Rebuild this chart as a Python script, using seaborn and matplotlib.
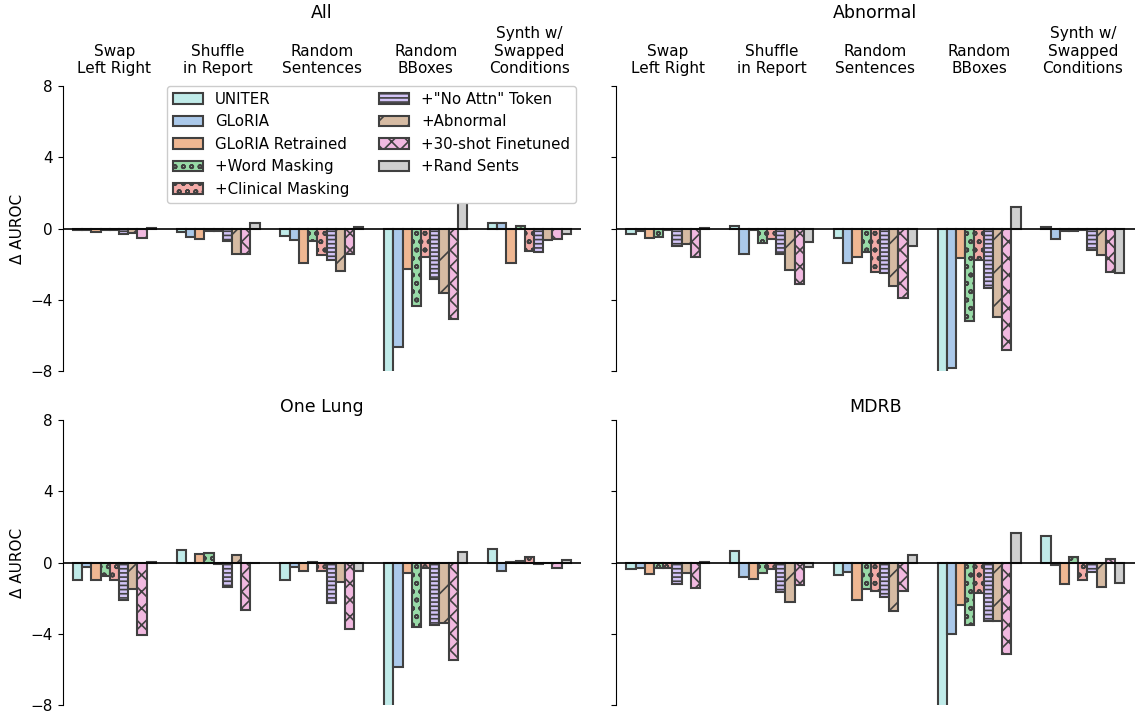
import numpy as np
import pandas as pd
import matplotlib
matplotlib.use("Agg")
import matplotlib.pyplot as plt
import seaborn as sns
from matplotlib.patches import Patch

# -----------------------------------------------------------------------------
# data (delta AUROC)

perturbations = ["Swap\nLeft Right", "Shuffle\nin Report", "Random\nSentences",
                 "Random\nBBoxes", "Synth w/\nSwapped\nConditions"]
models = ["UNITER", "GLoRIA", "GLoRIA Retrained", "+Word Masking",
          "+Clinical Masking", "+\"No Attn\" Token", "+Abnormal",
          "+30-shot Finetuned", "+Rand Sents"]
panels = ["All", "Abnormal", "One Lung", "MDRB"]
hatches = ["", "", "", "oo", "oo", "----", "/", "xx", ""]

# one row per model, one column per perturbation
all_vals = [[-0.05, -0.20, -0.40, -9.50, 0.30],
            [-0.05, -0.45, -0.65, -6.65, 0.30],
            [-0.20, -0.60, -1.95, -2.25, -1.90],
            [-0.10, -0.15, -0.70, -4.35, 0.15],
            [-0.05, -0.15, -1.50, -1.60, -1.25],
            [-0.30, -0.70, -1.75, -2.80, -1.30],
            [-0.25, -1.45, -2.35, -3.60, -0.65],
            [-0.55, -1.40, -1.45, -5.05, -0.60],
            [0.02, 0.30, 0.10, 2.00, -0.30]]
abnormal_vals = [[-0.30, 0.15, -0.50, -9.50, 0.10],
                 [-0.15, -1.45, -1.90, -7.80, -0.60],
                 [-0.50, -0.05, -1.60, -1.65, -0.15],
                 [-0.45, -0.80, -1.30, -5.20, -0.15],
                 [-0.05, -0.60, -2.45, -1.75, -0.05],
                 [-1.00, -1.40, -2.50, -3.35, -1.20],
                 [-0.85, -2.30, -3.20, -4.95, -1.50],
                 [-1.60, -3.10, -3.90, -6.80, -2.45],
                 [0.01, -0.75, -1.00, 1.20, -2.50]]
one_lung_vals = [[-1.00, 0.70, -1.00, -9.50, 0.75],
                 [-0.25, -0.05, -0.25, -5.85, -0.45],
                 [-1.00, 0.50, -0.45, -0.60, 0.02],
                 [-0.75, 0.55, 0.05, -3.60, 0.10],
                 [-1.00, -0.10, -0.45, -0.30, 0.30],
                 [-2.10, -1.35, -2.25, -3.50, -0.10],
                 [-1.50, 0.40, -1.10, -3.40, -0.02],
                 [-4.05, -2.65, -3.75, -5.45, -0.30],
                 [0.01, -0.05, -0.45, 0.60, 0.15]]
mdrb_vals = [[-0.35, 0.65, -0.70, -9.50, 1.50],
             [-0.30, -0.80, -0.55, -4.00, -0.15],
             [-0.65, -0.90, -2.10, -2.40, -1.20],
             [-0.30, -0.60, -1.50, -3.50, 0.30],
             [-0.30, -0.35, -1.60, -1.70, -0.95],
             [-1.20, -1.65, -1.95, -3.25, -0.55],
             [-0.60, -2.20, -2.70, -3.25, -1.35],
             [-1.40, -1.25, -1.60, -5.15, 0.20],
             [0.01, -0.25, 0.45, 1.65, -1.15]]
panel_vals = [all_vals, abnormal_vals, one_lung_vals, mdrb_vals]

# -----------------------------------------------------------------------------
# style

sns.set_style("ticks", {"text.color": "black", "axes.labelcolor": "black",
                        "xtick.color": "black", "ytick.color": "black",
                        "axes.edgecolor": "black"})
plt.rcParams["font.family"] = ["DejaVu Sans"]
plt.rcParams["hatch.color"] = ".25"
plt.rcParams["hatch.linewidth"] = 1.2
pal = sns.color_palette("pastel")
colors = [pal[9]] + list(pal[:8])

fig, axes = plt.subplots(2, 2, figsize=(11.37, 7.16), dpi=100, sharey=True)
fig.subplots_adjust(left=0.055, right=0.998, top=0.88, bottom=0.015,
                    wspace=0.067, hspace=0.17)

for k, ax in enumerate(axes.flat):
    vals = panel_vals[k]
    df = pd.DataFrame({
        "perturbation": [p for m in models for p in perturbations],
        "model": [m for m in models for p in perturbations],
        "delta": [v for row in vals for v in row],
    })
    sns.barplot(data=df, x="perturbation", y="delta", hue="model",
                order=perturbations, hue_order=models, palette=colors,
                errorbar=None, edgecolor=".25", linewidth=1.5,
                legend=False, ax=ax)
    for cont, h in zip(ax.containers, hatches):
        for bar in cont:
            bar.set_hatch(h)
    ax.axhline(0, color="black", lw=1.2, zorder=5)
    ax.set_ylim(-8, 8)
    ax.set_yticks([-8, -4, 0, 4, 8])
    ax.set_xlim(-0.5, 4.5)
    ax.set_xlabel("")
    ax.set_ylabel("Δ AUROC", fontsize=11)
    ax.tick_params(axis="y", labelsize=11)
    sns.despine(ax=ax, bottom=True)
    if k < 2:
        ax.tick_params(axis="x", top=False, bottom=False, labeltop=True,
                       labelbottom=False, labelsize=11)
    else:
        ax.tick_params(axis="x", bottom=False, labelbottom=False)
    ax.set_title(panels[k], fontsize=12.5)

handles = [Patch(facecolor=c.patches[0].get_facecolor(), edgecolor=".25",
                 linewidth=1.5, hatch=h, label=m)
           for c, h, m in zip(axes[0, 0].containers, hatches, models)]
axes[0, 0].legend(handles=handles, ncol=2, loc="upper right",
                  bbox_to_anchor=(0.99, 1.0), borderaxespad=0,
                  fontsize=10.8, framealpha=1)

fig.savefig("out.png", dpi=100)
